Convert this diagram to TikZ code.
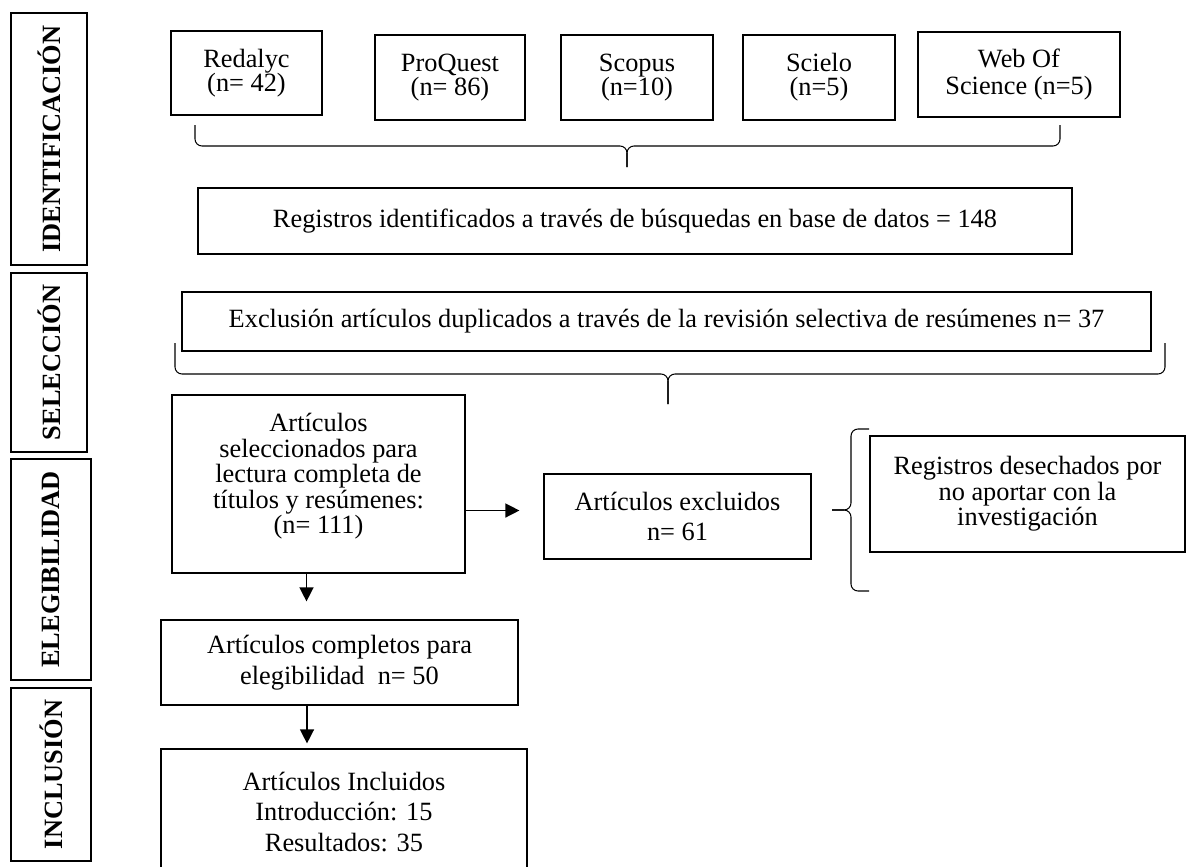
\documentclass[tikz,border=0pt]{standalone}
\usepackage{fontspec}
\setmainfont{Liberation Serif}
\usetikzlibrary{arrows.meta}

\begin{document}
\begin{tikzpicture}[x=0.02cm, y=-0.02cm,
	box/.style={draw, line width=0.7pt, align=center, inner sep=1pt, font=\fontsize{15}{14.5}\selectfont},
	phase/.style={draw, line width=1.1pt, rotate=90, inner sep=0pt, font=\fontsize{15}{16}\selectfont\bfseries},
	arr/.style={-{Triangle[length=8pt,width=8pt]}, line width=0.8pt},
	brc/.style={line width=0.6pt, rounded corners=0.14cm}]
	\useasboundingbox (0,0) rectangle (1187,866);
	\clip (0,0) rectangle (1187,866);

	% phases
	\node[phase, minimum width=5.04cm, minimum height=1.52cm] (ident) at (49,139) {IDENTIFICACIÓN};
	\node[phase, minimum width=3.58cm, minimum height=1.52cm] (selph) at (49,362.5) {SELECCIÓN};
	\node[phase, minimum width=4.42cm, minimum height=1.6cm] (elig) at (51,569.5) {ELEGIBILIDAD};
	\node[phase, minimum width=3.46cm, minimum height=1.6cm] (incl) at (51,774.5) {INCLUSIÓN};

	% databases
	\node[box, font=\fontsize{15}{13.7}\selectfont, minimum width=3.02cm, minimum height=1.68cm] (redalyc) at (246.5,73) {Redalyc\\(n= 42)};
	\node[box, font=\fontsize{15}{13.7}\selectfont, minimum width=3.0cm, minimum height=1.7cm] (proquest) at (450,77.5) {ProQuest\\(n= 86)};
	\node[box, font=\fontsize{15}{13.7}\selectfont, minimum width=3.04cm, minimum height=1.7cm] (scopus) at (637,77.5) {Scopus\\(n=10)};
	\node[box, font=\fontsize{15}{13.7}\selectfont, minimum width=3.04cm, minimum height=1.7cm] (scielo) at (819,77.5) {Scielo\\(n=5)};
	\node[box, font=\fontsize{15}{15}\selectfont, minimum width=4.04cm, minimum height=1.7cm] (wos) at (1019,74.5) {Web Of\\Science (n=5)};

	\node[box, minimum width=17.48cm, minimum height=1.32cm] (regis) at (635,221) {Registros identificados a través de búsquedas en base de datos = 148};
	\node[box, minimum width=19.38cm, minimum height=1.18cm] (dupl) at (666.5,321.5) {Exclusión artículos duplicados a través de la revisión selectiva de resúmenes n= 37};

	\node[box, text depth=12pt, minimum width=5.86cm, minimum height=3.56cm] (selec) at (318.5,484) {Artículos\\seleccionados para\\lectura completa de\\títulos y resúmenes:\\(n= 111)};
	\node[box, font=\fontsize{15}{17}\selectfont, minimum width=5.34cm, minimum height=1.7cm] (excl) at (677.5,516.5) {Artículos excluidos\\n= 61};
	\node[box, minimum width=6.3cm, minimum height=2.32cm] (desech) at (1027.5,494) {Registros desechados por\\no aportar con la\\investigación};

	\node[box, font=\fontsize{15}{18}\selectfont, minimum width=7.14cm, minimum height=1.7cm] (compl) at (339.5,662.5) {Artículos completos para\\elegibilidad\ \ n= 50};
	\node[box, font=\fontsize{15}{17.6}\selectfont, minimum width=7.32cm, minimum height=2.52cm] (inclu) at (344,812) {Artículos Incluidos\\Introducción: 15\\Resultados: 35};

	% braces
	\draw[brc] (195,125) -- (195,146) -- (627,146) -- (627,167);
	\draw[brc] (1060,125) -- (1060,146) -- (627,146) -- (627,167);
	\draw[brc] (175,343) -- (175,374) -- (668,374) -- (668,404);
	\draw[brc] (1165,343) -- (1165,374) -- (668,374) -- (668,404);
	\draw[brc] (869,429) -- (851,429) -- (851,510) -- (832,510);
	\draw[brc] (869,591) -- (851,591) -- (851,510) -- (832,510);

	% arrows
	\coordinate (exin) at ([yshift=0.12cm]excl.west);
	\draw[arr, shorten >=0.48cm] (selec.east |- exin) -- (exin);
	\coordinate (dn1) at ([xshift=-0.24cm]selec.south);
	\draw[arr, shorten >=0.36cm] (dn1) -- (dn1 |- compl.north);
	\coordinate (dn2) at ([xshift=-0.65cm]compl.south);
	\draw[arr, shorten >=0.1cm] (dn2) -- (dn2 |- inclu.north);
\end{tikzpicture}
\end{document}
